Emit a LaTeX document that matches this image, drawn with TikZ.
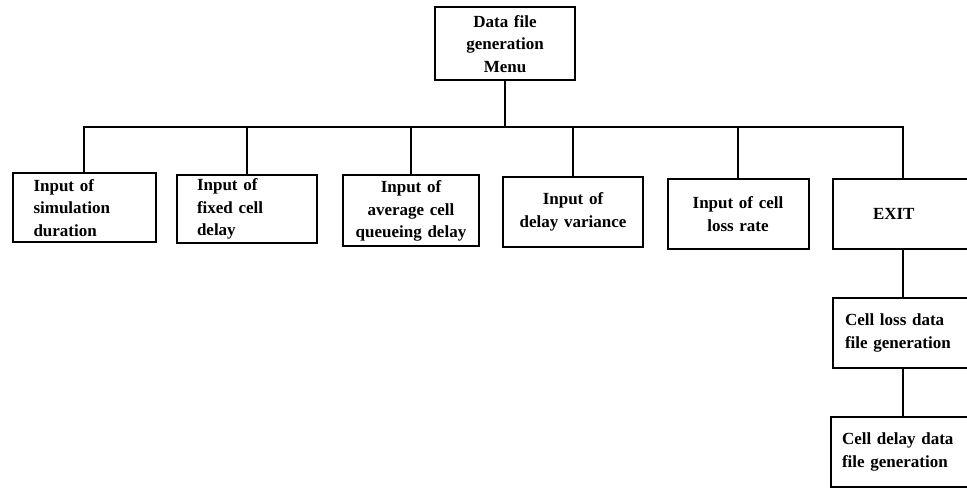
\documentclass[tikz,border=0pt]{standalone}
\usepackage{fontspec}
\setmainfont{Liberation Serif}
\usetikzlibrary{calc}
\begin{document}
\begin{tikzpicture}[x=1pt,y=-1pt,
  box/.style={draw, line width=2pt, rectangle, inner sep=0pt,
    font=\bfseries\fontsize{17}{22.5}\selectfont},
  wire/.style={line width=2pt}]
\useasboundingbox (0,0) rectangle (967,489);
\clip (0,0) rectangle (967,489);

% menu root
\node[box, minimum width=140pt, minimum height=73pt, text width=130pt, align=center]
  (menu) at (505,44) {Data file\\generation\\Menu};

% first level entries
\node[box, minimum width=143pt, minimum height=69pt, text width=101pt, align=left]
  (b1) at (84,208) {Input of\\simulation\\duration};
\node[box, minimum width=140pt, minimum height=68pt, text width=100pt, align=left]
  (b2) at (247,209) {Input of\\fixed cell\\delay};
\node[box, minimum width=136pt, minimum height=71pt, text width=130pt, align=center]
  (b3) at (411,211) {Input of\\average cell\\queueing delay};
\node[box, minimum width=140pt, minimum height=70pt, text width=130pt, align=center]
  (b4) at (573,212) {Input of\\delay variance};
\node[box, minimum width=141pt, minimum height=70pt, text width=130pt, align=center]
  (b5) at (738,214) {Input of cell\\loss rate};

% right column, running past the right margin
\node[box, minimum width=170pt, minimum height=70pt, text width=90pt, align=left]
  (exit) at (918,214) {EXIT};
\node[box, minimum width=170pt, minimum height=70pt, text width=146pt, align=left]
  (loss) at (918,333) {Cell loss data\\file generation};
\node[box, minimum width=172pt, minimum height=70pt, text width=150pt, align=left]
  (delay) at (917,452) {Cell delay data\\file generation};

% attachment points of the right column
\coordinate (exitN) at ($(exit.north west)+(71,0)$);
\coordinate (exitS) at ($(exit.south west)+(71,0)$);
\coordinate (lossN) at ($(loss.north west)+(71,0)$);
\coordinate (lossS) at ($(loss.south west)+(71,0)$);

% connectors
\coordinate (hub) at (505,127);
\draw[wire] (menu.south) -- (hub);
\foreach \n in {b1,b2,b3,b4,b5}
  \draw[wire] (\n.north) |- (hub);
\draw[wire] (exitN) |- (hub);
\draw[wire] (exitS) -- (lossN);
\draw[wire] (lossS) -- (lossS |- delay.north);
\end{tikzpicture}
\end{document}
